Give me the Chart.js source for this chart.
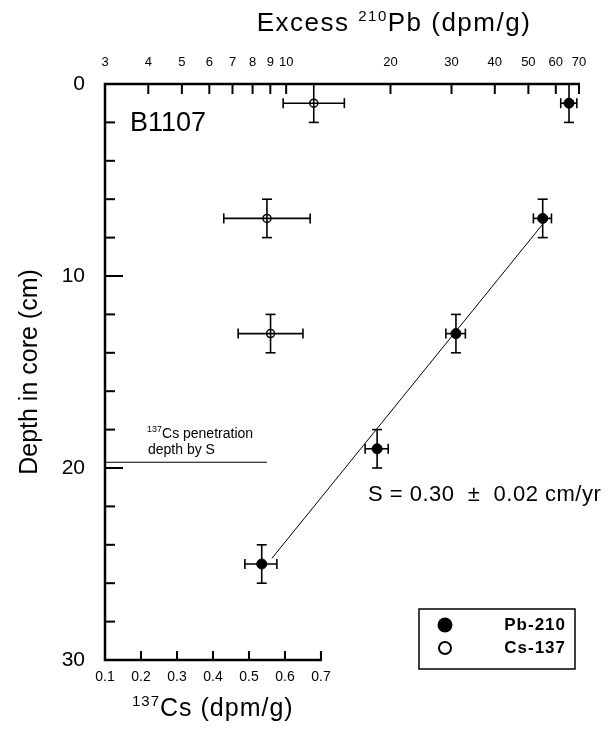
<!DOCTYPE html>
<html>
<head>
<meta charset="utf-8">
<title>B1107 core profile</title>
<script src="https://cdn.jsdelivr.net/npm/chart.js"></script>
<style>
  html, body { margin: 0; padding: 0; background: #fff; }
</style>
</head>
<body>
<canvas id="coreChart" width="616" height="740"></canvas>
<script>
// excess Pb-210 against depth (top, log axis)
var pbDepth = [1, 7, 13, 19, 25];
var pbActivity = [65.5, 55, 30.9, 18.3, 8.5];
var pbError = [3.5, 3.3, 2.0, 1.4, 0.9];

// Cs-137 against depth (bottom, linear axis)
var csDepth = [1, 7, 13];
var csActivity = [0.68, 0.55, 0.56];
var csError = [0.085, 0.12, 0.09];

// every sample is a 2 cm slice
var depthError = 1;

// log-linear fit through the lower Pb points
var fitDepth = [7.3, 24.7];
var fitPb = [55, 9.1];

// Cs penetration depth predicted from S
var penDepth = 19.7;
var penCs = [0.1, 0.55];

var pbTicks = [3, 4, 5, 6, 7, 8, 9, 10, 20, 30, 40, 50, 60, 70];
var csTicks = [0.1, 0.2, 0.3, 0.4, 0.5, 0.6, 0.7];
var depthTicks = [0, 10, 20, 30];
var depthMinor = [2, 4, 6, 8, 12, 14, 16, 18, 22, 24, 26, 28];
var legendLabels = ['Pb-210', 'Cs-137'];

var FONT = '"Liberation Sans", Arial, Helvetica, sans-serif';

function setTicks(list) {
    return function(scale) {
        scale.ticks = list.map(function(v) { return { value: v }; });
    };
}

// text with a raised mass number in front of the element symbol
function drawIsotopeText(c, parts, x, y, size, supSize, align, spacing) {
    c.letterSpacing = (spacing || 0) + 'px';
    var widths = parts.map(function(p) {
        c.font = (p.sup ? supSize : size) + 'px ' + FONT;
        return c.measureText(p.text).width;
    });
    var total = widths.reduce(function(a, b) { return a + b; }, 0);
    var cx = align === 'center' ? x - total / 2 : x;
    c.textBaseline = 'alphabetic';
    c.textAlign = 'left';
    parts.forEach(function(p, i) {
        c.font = (p.sup ? supSize : size) + 'px ' + FONT;
        c.fillText(p.text, cx, p.sup ? y - size * 0.4 : y);
        cx += widths[i];
    });
    c.letterSpacing = '0px';
}

var corePlugin = {
    id: 'coreDecor',
    beforeDatasetsDraw: function(chart) {
        var c = chart.ctx;
        var ys = chart.scales.y;
        c.save();
        c.strokeStyle = '#000';
        c.lineWidth = 1.6;

        function seg(x1, y1, x2, y2) {
            c.beginPath();
            c.moveTo(x1, y1);
            c.lineTo(x2, y2);
            c.stroke();
        }

        function errorCross(xs, xv, xe, dv) {
            var px = xs.getPixelForValue(xv);
            var py = ys.getPixelForValue(dv);
            var xl = xs.getPixelForValue(xv - xe);
            var xr = xs.getPixelForValue(xv + xe);
            var yt = ys.getPixelForValue(dv - depthError);
            var yb = ys.getPixelForValue(dv + depthError);
            seg(xl, py, xr, py);
            seg(xl, py - 5, xl, py + 5);
            seg(xr, py - 5, xr, py + 5);
            seg(px, yt, px, yb);
            seg(px - 5, yt, px + 5, yt);
            seg(px - 5, yb, px + 5, yb);
        }

        pbDepth.forEach(function(d, i) {
            errorCross(chart.scales.xPb, pbActivity[i], pbError[i], d);
        });
        csDepth.forEach(function(d, i) {
            errorCross(chart.scales.xCs, csActivity[i], csError[i], d);
        });
        c.restore();
    },
    afterDraw: function(chart) {
        var c = chart.ctx;
        var area = chart.chartArea;
        var xPb = chart.scales.xPb, xCs = chart.scales.xCs, ys = chart.scales.y;
        c.save();
        c.strokeStyle = '#000';
        c.fillStyle = '#000';
        c.lineCap = 'butt';

        // axis lines: left and top full length, bottom only under the Cs ticks
        c.lineWidth = 2.5;
        var csEnd = xCs.getPixelForValue(csTicks[csTicks.length - 1]);
        c.beginPath();
        c.moveTo(xPb.getPixelForValue(70) + 1, area.top);
        c.lineTo(area.left, area.top);
        c.lineTo(area.left, area.bottom);
        c.lineTo(csEnd + 1, area.bottom);
        c.stroke();

        // inward tick marks
        c.lineWidth = 2;
        pbTicks.forEach(function(v) {
            var x = xPb.getPixelForValue(v);
            c.beginPath(); c.moveTo(x, area.top); c.lineTo(x, area.top + 10); c.stroke();
        });
        csTicks.forEach(function(v) {
            var x = xCs.getPixelForValue(v);
            c.beginPath(); c.moveTo(x, area.bottom); c.lineTo(x, area.bottom - 9); c.stroke();
        });
        depthMinor.forEach(function(v) {
            var y = ys.getPixelForValue(v);
            c.beginPath(); c.moveTo(area.left, y); c.lineTo(area.left + 10, y); c.stroke();
        });
        depthTicks.forEach(function(v) {
            var y = ys.getPixelForValue(v);
            c.beginPath(); c.moveTo(area.left, y); c.lineTo(area.left + 18, y); c.stroke();
        });

        // axis titles
        drawIsotopeText(c, [
            { text: 'Excess ' }, { text: '210', sup: true }, { text: 'Pb (dpm/g)' }
        ], 394, 31, 26, 15, 'center', 1.5);
        drawIsotopeText(c, [
            { text: '137', sup: true }, { text: 'Cs (dpm/g)' }
        ], 132, 716, 25, 15, 'left', 1);

        // core name
        c.font = '27px ' + FONT;
        c.textAlign = 'left';
        c.textBaseline = 'alphabetic';
        c.fillText('B1107', 130, 131);

        // penetration note
        drawIsotopeText(c, [
            { text: '137', sup: true }, { text: 'Cs penetration' }
        ], 147, 438, 14, 9, 'left', 0);
        c.font = '14px ' + FONT;
        c.fillText('depth by S', 148, 454);

        // sedimentation rate
        c.font = '22px ' + FONT;
        c.letterSpacing = '0.5px';
        c.fillText('S = 0.30  \u00b1  0.02 cm/yr', 368, 501);
        c.letterSpacing = '0px';

        // legend
        var lx = 419, ly = 609, lw = 156, lh = 60;
        c.lineWidth = 1.5;
        c.strokeRect(lx, ly, lw, lh);
        c.beginPath();
        c.arc(lx + 26, ly + 16, 7.5, 0, Math.PI * 2);
        c.fill();
        c.lineWidth = 2;
        c.beginPath();
        c.arc(lx + 26, ly + 39, 6, 0, Math.PI * 2);
        c.stroke();
        c.font = 'bold 17px ' + FONT;
        c.letterSpacing = '1px';
        c.textAlign = 'right';
        c.textBaseline = 'middle';
        c.fillText(legendLabels[0], lx + lw - 9, ly + 16);
        c.fillText(legendLabels[1], lx + lw - 9, ly + 39);
        c.letterSpacing = '0px';
        c.restore();
    }
};

var ctx = document.getElementById('coreChart');
new Chart(ctx, {
    type: 'scatter',
    data: {
        datasets: [
            {
                label: 'fit',
                type: 'line',
                data: fitDepth.map(function(d, i) { return { x: fitPb[i], y: d }; }),
                xAxisID: 'xPb',
                yAxisID: 'y',
                borderColor: '#000',
                borderWidth: 1,
                pointRadius: 0,
                fill: false
            },
            {
                label: 'penetration',
                type: 'line',
                data: penCs.map(function(v) { return { x: v, y: penDepth }; }),
                xAxisID: 'xCs',
                yAxisID: 'y',
                borderColor: '#000',
                borderWidth: 1.2,
                pointRadius: 0,
                fill: false
            },
            {
                label: legendLabels[0],
                data: pbDepth.map(function(d, i) { return { x: pbActivity[i], y: d }; }),
                xAxisID: 'xPb',
                yAxisID: 'y',
                pointRadius: 5,
                backgroundColor: '#000',
                borderColor: '#000'
            },
            {
                label: legendLabels[1],
                data: csDepth.map(function(d, i) { return { x: csActivity[i], y: d }; }),
                xAxisID: 'xCs',
                yAxisID: 'y',
                pointRadius: 4,
                borderWidth: 1.5,
                backgroundColor: 'rgba(0,0,0,0)',
                borderColor: '#000'
            }
        ]
    },
    options: {
        responsive: false,
        animation: false,
        devicePixelRatio: 1,
        layout: { padding: { left: 0, right: 37, top: 0, bottom: 0 } },
        plugins: {
            legend: { display: false },
            tooltip: { enabled: false }
        },
        scales: {
            xPb: {
                type: 'logarithmic',
                position: 'top',
                min: 3,
                max: 70,
                afterBuildTicks: setTicks(pbTicks),
                afterFit: function(s) { s.height = 84; },
                grid: { display: false, drawTicks: false },
                border: { display: false },
                ticks: {
                    autoSkip: false,
                    maxRotation: 0,
                    padding: 14,
                    color: '#000',
                    font: { family: FONT, size: 13 },
                    callback: function(v) { return String(v); }
                }
            },
            xCs: {
                type: 'linear',
                position: 'bottom',
                min: 0.1,
                max: 1.417,
                afterBuildTicks: setTicks(csTicks),
                afterFit: function(s) { s.height = 80; },
                grid: { display: false, drawTicks: false },
                border: { display: false },
                ticks: {
                    autoSkip: false,
                    maxRotation: 0,
                    padding: 9,
                    color: '#000',
                    font: { family: FONT, size: 14 },
                    callback: function(v) { return v.toFixed(1); }
                }
            },
            y: {
                type: 'linear',
                reverse: true,
                min: 0,
                max: 30,
                afterBuildTicks: setTicks(depthTicks),
                afterFit: function(s) { s.width = 105; },
                grid: { display: false, drawTicks: false },
                border: { display: false },
                title: {
                    display: true,
                    text: 'Depth in core (cm)',
                    color: '#000',
                    font: { family: FONT, size: 25 },
                    padding: { top: 15, bottom: 0 }
                },
                ticks: {
                    padding: 20,
                    color: '#000',
                    font: { family: FONT, size: 21 }
                }
            }
        }
    },
    plugins: [corePlugin]
});
</script>
</body>
</html>
